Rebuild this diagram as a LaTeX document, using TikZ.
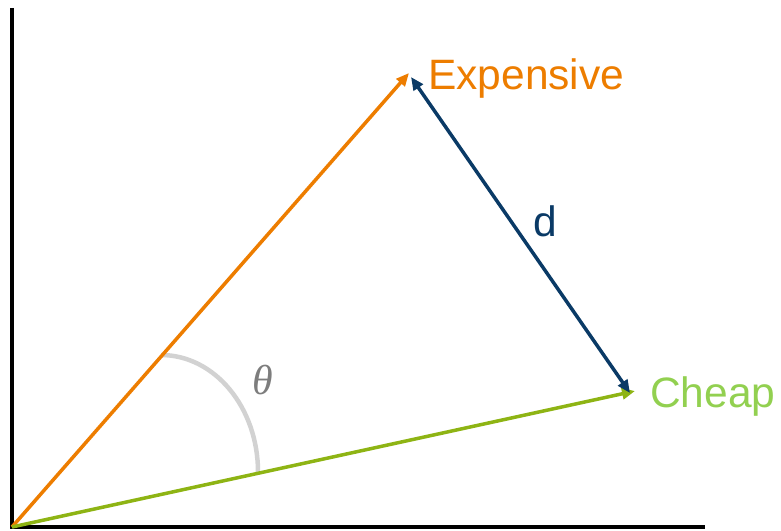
\documentclass[tikz,border=0pt]{standalone}
\usepackage{fontspec}
\setmainfont{Liberation Sans}
\newfontfamily\vcserif{Liberation Serif}
\usepackage{tikz}
\usetikzlibrary{arrows.meta,positioning,calc}
\definecolor{vcorange}{RGB}{237,125,0}
\definecolor{vcgreen}{RGB}{142,180,20}
\definecolor{vclight}{RGB}{146,208,80}
\definecolor{vcblue}{RGB}{10,58,102}
\definecolor{vcgrey}{RGB}{210,210,210}
\definecolor{vctheta}{RGB}{125,125,125}
\tikzset{
vcaxis/.style={line width=4pt,black},
vcvec/.style={line width=3.5pt,-{Triangle[length=13pt,width=11pt]}},
vcdist/.style={line width=3.5pt,vcblue,{Triangle[length=13pt,width=11pt]}-{Triangle[length=13pt,width=11pt]}},
vcangle/.style={line width=4.5pt,vcgrey},
vclabel/.style={font=\fontsize{42.5}{50}\selectfont,inner sep=0pt}
}
\begin{document}
\begin{tikzpicture}[x=1pt,y=1pt]
\useasboundingbox (0,0) rectangle (781,530);
\coordinate (ytop) at (12,522);
\coordinate (origin) at (12,3);
\coordinate (xend) at (705,3);
\coordinate (exptip) at (409,457);
\coordinate (cheaptip) at (635,139);
\coordinate (dtop) at (411,453);
\coordinate (dbot) at (630,137);
\coordinate (arcstart) at (161,175);
\draw[vcaxis] (ytop) -- (origin) -- (xend);
\draw[vcangle] (arcstart) arc[start angle=90,end angle=0,x radius=97,y radius=117];
\draw[vcvec,vcorange] (origin) -- (exptip);
\draw[vcvec,vcgreen] (origin) -- (cheaptip);
\draw[vcdist] (dtop) -- (dbot);
\node[vclabel,text=vcorange,anchor=base west] (explabel) at (428,440) {Expensive};
\node[vclabel,text=vclight,anchor=base west] (cheaplabel) at (650,122) {Cheap};
\node[vclabel,text=vcblue,anchor=base west] (dlabel) at (533,293) {d};
\node[vclabel,text=vctheta,font=\fontsize{42}{50}\selectfont\vcserif\itshape] (thetalabel) at (263,150) {θ};
\end{tikzpicture}
\end{document}
